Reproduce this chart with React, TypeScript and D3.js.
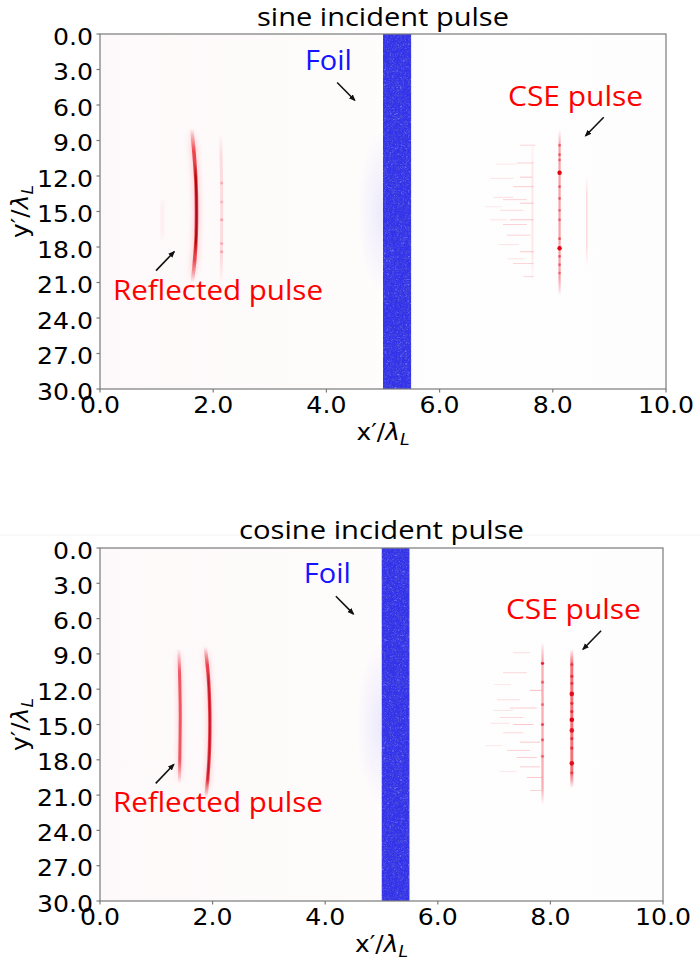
import React from 'react';
import * as d3 from 'd3';

type Pt = [number, number];
type Dash = [number, number, number, number]; // x0, x1, y, alpha
type Dot = [number, number, number]; // x, y, alpha

const xTicks = [0, 2, 4, 6, 8, 10];
const yTicks = [0, 3, 6, 9, 12, 15, 18, 21, 24, 27, 30];
const foilX: [number, number] = [5.0, 5.5];
const panelTitles = ['sine incident pulse', 'cosine incident pulse'];

// ---- sine panel ----
const sineRefMain: Pt[] = [[1.62, 8.0], [1.66, 10], [1.695, 12.5], [1.705, 15], [1.695, 17.5], [1.665, 19.5], [1.63, 21.0]];
const sineRefCore: Pt[] = [[1.675, 10.8], [1.695, 12.5], [1.705, 15], [1.695, 17.5], [1.675, 18.8]];
const sineRefSecond: Pt[] = [[2.13, 8.4], [2.15, 14], [2.14, 21]];
const sineRefFaint: Pt[] = [[1.1, 13.8], [1.1, 17.6]];
const sineRefSecondDots: Dot[] = [[2.15, 12.6, 0.25], [2.15, 15.7, 0.3], [2.15, 17.7, 0.25], [2.15, 18.4, 0.3], [2.15, 14.2, 0.2]];
const sineCseMain: Pt[] = [[8.12, 8.1], [8.12, 22.1]];
const sineCseFaint: Pt[] = [[8.6, 12.0], [8.6, 19.6]];
const sineCseColumn: Pt[] = [[7.64, 9.0], [7.64, 21.0]];
const sineCseDots: Dot[] = [
  [8.12, 9.4, 0.45], [8.12, 10.2, 0.5], [8.12, 10.65, 0.45], [8.12, 11.72, 1.0], [8.12, 12.9, 0.5],
  [8.12, 13.9, 0.45], [8.12, 14.9, 0.4], [8.12, 15.7, 0.45], [8.12, 17.3, 0.55], [8.12, 18.1, 1.0],
  [8.12, 18.8, 0.5], [8.12, 19.5, 0.45], [8.12, 20.2, 0.4],
];
const sineCseDashes: Dash[] = [
  [7.42, 7.69, 9.4, 0.18], [7.36, 7.66, 10.9, 0.2], [7.42, 7.63, 12.1, 0.25], [6.89, 7.30, 12.2, 0.12],
  [7.30, 7.66, 12.9, 0.22], [6.95, 7.30, 13.8, 0.14], [7.12, 7.54, 14.0, 0.2], [7.42, 7.66, 14.3, 0.25],
  [7.07, 7.48, 14.9, 0.16], [7.24, 7.66, 15.7, 0.25], [6.89, 7.19, 15.7, 0.12], [7.12, 7.54, 16.1, 0.2],
  [7.19, 7.60, 17.0, 0.2], [7.42, 7.66, 18.4, 0.25], [7.30, 7.66, 19.4, 0.2], [7.48, 7.66, 20.5, 0.18],
  [7.00, 7.35, 11.0, 0.1], [7.05, 7.40, 17.8, 0.12], [7.20, 7.50, 19.0, 0.12], [6.80, 7.10, 14.6, 0.1],
];

// ---- cosine panel ----
const cosRefFirst: Pt[] = [[1.40, 8.6], [1.415, 11], [1.425, 14], [1.42, 17], [1.41, 20.0]];
const cosRefSecond: Pt[] = [[1.87, 8.4], [1.925, 11], [1.95, 14], [1.945, 17], [1.915, 19.5], [1.88, 21.2]];
const cosRefSecondCore: Pt[] = [[1.915, 10.2], [1.95, 14], [1.945, 17], [1.915, 19.5], [1.90, 20.4]];
const cosCseFirst: Pt[] = [[7.86, 8.0], [7.86, 21.8]];
const cosCseSecond: Pt[] = [[8.38, 8.6], [8.38, 20.4]];
const cosCseDots: Dot[] = [
  [8.38, 9.9, 0.5], [8.38, 10.9, 0.6], [8.38, 11.5, 0.55], [8.38, 12.4, 0.9], [8.38, 13.2, 0.6],
  [8.38, 13.9, 0.65], [8.38, 14.6, 1.0], [8.38, 15.5, 0.85], [8.38, 16.2, 0.6], [8.38, 17.0, 0.6],
  [8.38, 18.3, 0.9], [8.38, 19.1, 0.5],
  [7.86, 9.8, 0.8], [7.86, 11.4, 0.45], [7.86, 15.0, 0.6], [7.86, 16.3, 0.5], [7.86, 17.7, 0.45], [7.86, 13.3, 0.4],
];
const cosCseDashes: Dash[] = [
  [7.34, 7.64, 8.9, 0.15], [7.16, 7.58, 10.6, 0.18], [7.64, 7.85, 12.1, 0.3], [7.05, 7.46, 12.9, 0.15],
  [7.28, 7.76, 13.6, 0.22], [7.10, 7.52, 14.4, 0.18], [7.34, 7.70, 15.0, 0.25], [7.16, 7.52, 15.7, 0.18],
  [7.46, 7.82, 16.5, 0.25], [7.23, 7.64, 17.2, 0.2], [7.40, 7.76, 17.8, 0.22], [7.46, 7.82, 18.6, 0.22],
  [7.58, 7.85, 19.5, 0.25], [7.64, 7.85, 20.6, 0.2], [6.93, 7.28, 14.9, 0.12], [6.98, 7.34, 13.8, 0.12],
  [6.85, 7.15, 16.8, 0.1], [7.00, 7.30, 11.6, 0.1], [7.10, 7.40, 19.0, 0.1],
];

// annotations (data coords): label start, arrow from, arrow to
const foilLabel: Pt = [3.62, 3.0];
const foilArrow: [Pt, Pt] = [[4.19, 4.1], [4.5, 5.6]];
const cseLabel: Pt = [7.21, 6.05];
const cseArrow: [Pt, Pt] = [[8.9, 7.03], [8.58, 8.6]];
const refLabel: Pt = [0.23, 22.45];
const refArrow: [Pt, Pt] = [[0.99, 20.0], [1.31, 18.4]];

type Panel = { left: number; right: number; top: number; bottom: number; titleY: number; idx: number };
const panels: Panel[] = [
  { left: 100, right: 666, top: 34, bottom: 389, titleY: 26, idx: 0 },
  { left: 100, right: 663, top: 548, bottom: 901, titleY: 539, idx: 1 },
];

const TICK_FONT = 'DejaVu Sans, sans-serif';
const TEXT_FONT = '"Open Sans", sans-serif';

function Streak({ id, pts, x, y, width, color, opacity, blur, fade = 0.2 }: any) {
  const line = d3.line<Pt>().x((d) => x(d[0])).y((d) => y(d[1])).curve(d3.curveCatmullRom);
  const y0 = y(pts[0][1]);
  const y1 = y(pts[pts.length - 1][1]);
  return (
    <g>
      <defs>
        <linearGradient id={id} gradientUnits="userSpaceOnUse" x1={0} x2={0} y1={y0} y2={y1}>
          <stop offset="0" stopColor={color} stopOpacity={0} />
          <stop offset={fade} stopColor={color} stopOpacity={opacity} />
          <stop offset={1 - fade} stopColor={color} stopOpacity={opacity} />
          <stop offset="1" stopColor={color} stopOpacity={0} />
        </linearGradient>
      </defs>
      <path
        d={line(pts) || ''}
        fill="none"
        stroke={`url(#${id})`}
        strokeWidth={width}
        strokeLinecap="butt"
        filter={blur ? `url(#${blur})` : undefined}
      />
    </g>
  );
}

function Arrow({ from, to, x, y }: any) {
  return (
    <line
      x1={x(from[0])}
      y1={y(from[1])}
      x2={x(to[0])}
      y2={y(to[1])}
      stroke="#111"
      strokeWidth={1.6}
      markerEnd="url(#arrowHead)"
    />
  );
}

function Dashes({ data, x, y }: any) {
  return (
    <g>
      {data.map((d: Dash, i: number) => (
        <line
          key={i}
          x1={x(d[0])}
          x2={x(d[1])}
          y1={y(d[2])}
          y2={y(d[2])}
          stroke="#f01020"
          strokeWidth={1}
          opacity={d[3] * 0.9}
        />
      ))}
    </g>
  );
}

function PanelView({ p }: { p: Panel }) {
  const x = d3.scaleLinear().domain([0, 10]).range([p.left, p.right]);
  const y = d3.scaleLinear().domain([0, 30]).range([p.top, p.bottom]);
  const k = `p${p.idx}`;
  const cx = (p.left + p.right) / 2;
  const cy = (p.top + p.bottom) / 2;
  const sine = p.idx === 0;

  return (
    <g>
      <defs>
        <clipPath id={`${k}clip`}>
          <rect x={p.left} y={p.top} width={p.right - p.left} height={p.bottom - p.top} />
        </clipPath>
        <linearGradient id={`${k}bg`} x1="0" x2="1" y1="0" y2="0">
          <stop offset="0" stopColor="#fdf9fa" />
          <stop offset="0.45" stopColor="#fefbfb" />
          <stop offset="0.6" stopColor="#fefefe" />
          <stop offset="1" stopColor="#fefdfd" />
        </linearGradient>
        <radialGradient id={`${k}halo`} gradientUnits="userSpaceOnUse" cx={x(5.0)} cy={y(15)} r={y(22) - y(15)} gradientTransform={`translate(${x(5.0)},${y(15)}) scale(0.3,1) translate(${-x(5.0)},${-y(15)})`}>
          <stop offset="0" stopColor="#3030ff" stopOpacity={0.09} />
          <stop offset="1" stopColor="#3030ff" stopOpacity={0} />
        </radialGradient>
      </defs>

      <text
        x={cx}
        y={p.titleY}
        textAnchor="middle"
        fontFamily={TEXT_FONT}
        fontSize={25}
        fill="#000"
        textLength={sine ? 252 : 285}
        lengthAdjust="spacingAndGlyphs"
      >
        {panelTitles[p.idx]}
      </text>

      <g clipPath={`url(#${k}clip)`}>
        <rect x={p.left} y={p.top} width={p.right - p.left} height={p.bottom - p.top} fill={`url(#${k}bg)`} />
        {/* foil halo */}
        <rect x={x(4.3)} y={p.top} width={x(5.0) - x(4.3)} height={p.bottom - p.top} fill={`url(#${k}halo)`} />
        {/* foil */}
        <rect
          x={x(foilX[0])}
          y={p.top}
          width={x(foilX[1]) - x(foilX[0])}
          height={p.bottom - p.top}
          fill="#3030ea"
          filter="url(#foilNoise)"
        />

        {sine ? (
          <g>
            <Streak id={`${k}s1`} pts={sineRefFaint} x={x} y={y} width={2} color="#ff6070" opacity={0.12} blur="blur1" />
            <Streak id={`${k}s2`} pts={sineRefMain} x={x} y={y} width={8} color="#ff5060" opacity={0.2} blur="blur2" fade={0.12} />
            <Streak id={`${k}s3`} pts={sineRefMain} x={x} y={y} width={3.6} color="#e8101c" opacity={0.75} blur="blur05" fade={0.15} />
            <Streak id={`${k}s4`} pts={sineRefCore} x={x} y={y} width={2} color="#a00008" opacity={0.85} blur="blur05" fade={0.15} />
            <Streak id={`${k}s5`} pts={sineRefSecond} x={x} y={y} width={3} color="#ff6070" opacity={0.2} blur="blur05" fade={0.15} />
            {sineRefSecondDots.map((d, i) => (
              <circle key={i} cx={x(d[0])} cy={y(d[1])} r={1.5} fill="#e02030" opacity={d[2]} />
            ))}
            <Streak id={`${k}s6`} pts={sineCseColumn} x={x} y={y} width={2} color="#ff4050" opacity={0.12} blur="blur05" />
            <Streak id={`${k}s7`} pts={sineCseFaint} x={x} y={y} width={1.5} color="#ff4050" opacity={0.18} blur="blur05" />
            <Dashes data={sineCseDashes} x={x} y={y} />
            <Streak id={`${k}s8`} pts={sineCseMain} x={x} y={y} width={2.2} color="#f01828" opacity={0.4} blur="blur05" fade={0.1} />
            {sineCseDots.map((d, i) => (
              <circle key={i} cx={x(d[0])} cy={y(d[1])} r={d[2] > 0.9 ? 2.2 : 1.4} fill="#e00010" opacity={d[2]} />
            ))}
          </g>
        ) : (
          <g>
            <Streak id={`${k}c1`} pts={cosRefFirst} x={x} y={y} width={6} color="#ff5060" opacity={0.2} blur="blur2" fade={0.12} />
            <Streak id={`${k}c2`} pts={cosRefFirst} x={x} y={y} width={3} color="#e81828" opacity={0.7} blur="blur05" fade={0.18} />
            <Streak id={`${k}c3`} pts={cosRefSecond} x={x} y={y} width={7} color="#ff5060" opacity={0.2} blur="blur2" fade={0.1} />
            <Streak id={`${k}c4`} pts={cosRefSecond} x={x} y={y} width={3.4} color="#e01020" opacity={0.75} blur="blur05" fade={0.12} />
            <Streak id={`${k}c5`} pts={cosRefSecondCore} x={x} y={y} width={1.6} color="#b00010" opacity={0.65} blur="blur05" fade={0.12} />
            <Dashes data={cosCseDashes} x={x} y={y} />
            <Streak id={`${k}c6`} pts={cosCseFirst} x={x} y={y} width={2.2} color="#f01828" opacity={0.35} blur="blur05" fade={0.1} />
            <Streak id={`${k}c7`} pts={cosCseSecond} x={x} y={y} width={3} color="#f01020" opacity={0.6} blur="blur05" fade={0.1} />
            {cosCseDots.map((d, i) => (
              <circle key={i} cx={x(d[0])} cy={y(d[1])} r={d[2] > 0.8 ? 2.3 : 1.6} fill="#e00010" opacity={d[2]} />
            ))}
          </g>
        )}
      </g>

      {/* frame */}
      <rect
        x={p.left}
        y={p.top}
        width={p.right - p.left}
        height={p.bottom - p.top}
        fill="none"
        stroke="#7a7a7a"
        strokeWidth={1.2}
      />

      {/* y axis ticks */}
      {yTicks.map((t) => (
        <g key={`y${t}`}>
          <line x1={p.left - 3.5} x2={p.left} y1={y(t)} y2={y(t)} stroke="#7a7a7a" strokeWidth={1.2} />
          <text
            transform={`translate(${p.left - 7},${y(t) + 10.5}) scale(1.12,1)`}
            textAnchor="end"
            fontFamily={TICK_FONT}
            fontSize={22.5}
            fill="#000"
          >
            {t.toFixed(1)}
          </text>
        </g>
      ))}
      {/* x axis ticks */}
      {xTicks.map((t) => (
        <g key={`x${t}`}>
          <line x1={x(t)} x2={x(t)} y1={p.bottom} y2={p.bottom + 3.5} stroke="#7a7a7a" strokeWidth={1.2} />
          <text
            transform={`translate(${x(t)},${p.bottom + 24}) scale(1.12,1)`}
            textAnchor="middle"
            fontFamily={TICK_FONT}
            fontSize={22.5}
            fill="#000"
          >
            {t.toFixed(1)}
          </text>
        </g>
      ))}

      {/* axis labels */}
      <text
        transform={`translate(${cx},${p.bottom + 51}) scale(1.08,1)`}
        textAnchor="middle"
        fontFamily={TICK_FONT}
        fontSize={23}
        fill="#000"
      >
        <tspan>x′/</tspan>
        <tspan fontStyle="italic">λ</tspan>
        <tspan fontStyle="italic" fontSize={16} dy={5}>L</tspan>
      </text>
      <text
        transform={`translate(${p.left - 72},${cy}) rotate(-90) scale(1.08,1)`}
        textAnchor="middle"
        fontFamily={TICK_FONT}
        fontSize={23}
        fill="#000"
      >
        <tspan>y′/</tspan>
        <tspan fontStyle="italic">λ</tspan>
        <tspan fontStyle="italic" fontSize={16} dy={5}>L</tspan>
      </text>

      {/* annotations */}
      <text x={x(foilLabel[0])} y={y(foilLabel[1])} fontFamily={TEXT_FONT} fontSize={27} fill="#1414ff" textLength={47} lengthAdjust="spacingAndGlyphs">
        Foil
      </text>
      <Arrow from={foilArrow[0]} to={foilArrow[1]} x={x} y={y} />
      <text x={x(cseLabel[0])} y={y(cseLabel[1])} fontFamily={TEXT_FONT} fontSize={28} fill="#ff0000" textLength={135} lengthAdjust="spacingAndGlyphs">
        CSE pulse
      </text>
      <Arrow from={cseArrow[0]} to={cseArrow[1]} x={x} y={y} />
      <text x={x(refLabel[0])} y={y(refLabel[1])} fontFamily={TEXT_FONT} fontSize={28} fill="#ff0000" textLength={210} lengthAdjust="spacingAndGlyphs">
        Reflected pulse
      </text>
      <Arrow from={refArrow[0]} to={refArrow[1]} x={x} y={y} />
    </g>
  );
}

const FR = { filterUnits: 'userSpaceOnUse', x: 0, y: 0, width: 700, height: 964 } as any;

export default function App() {
  return (
    <svg
      width={700}
      height={964}
      viewBox="0 0 700 964"
      style={{ position: 'absolute', left: 0, top: 0, background: '#fff' }}
    >
      <defs>
        <marker id="arrowHead" viewBox="0 0 10 10" refX={8} refY={5} markerWidth={7} markerHeight={7} markerUnits="userSpaceOnUse" orient="auto">
          <path d="M0,1 L10,5 L0,9 Z" fill="#111" />
        </marker>
        <filter id="blur05" {...FR}>
          <feGaussianBlur stdDeviation="0.5" />
        </filter>
        <filter id="blur1" {...FR}>
          <feGaussianBlur stdDeviation="1" />
        </filter>
        <filter id="blur2" {...FR}>
          <feGaussianBlur stdDeviation="2" />
        </filter>
        <filter id="foilNoise" x="0" y="0" width="100%" height="100%">
          <feTurbulence type="fractalNoise" baseFrequency="0.38" numOctaves="3" seed="7" result="noise" />
          <feColorMatrix
            in="noise"
            type="matrix"
            values="0 0 0 0 0.1  0 0 0 0 0.1  0 0 0 0 0.6  2.0 0 0 0 -0.95"
            result="dark"
          />
          <feColorMatrix
            in="noise"
            type="matrix"
            values="0 0 0 0 0.35  0 0 0 0 0.35  0 0 0 0 1  -1.6 0 0 0 0.62"
            result="light"
          />
          <feMerge result="m">
            <feMergeNode in="SourceGraphic" />
            <feMergeNode in="dark" />
            <feMergeNode in="light" />
          </feMerge>
          <feComposite in="m" in2="SourceGraphic" operator="in" />
        </filter>
      </defs>
      <rect x={0} y={0} width={700} height={964} fill="#fff" />
      <line x1={0} x2={700} y1={535} y2={535} stroke="#f3f3f3" strokeWidth={1} />
      {panels.map((p) => (
        <PanelView key={p.idx} p={p} />
      ))}
    </svg>
  );
}
